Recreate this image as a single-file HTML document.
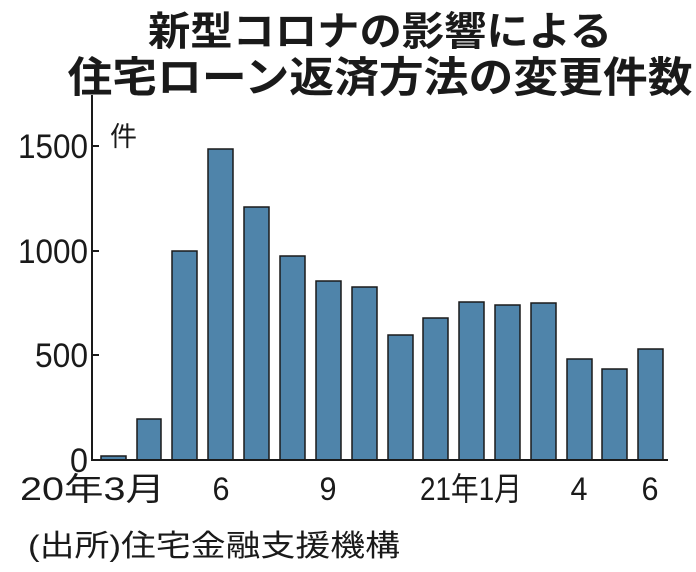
<!DOCTYPE html>
<html><head><meta charset="utf-8"><style>
html,body{margin:0;padding:0;background:#fff}
svg{display:block}
text{font-family:"Liberation Sans","Noto Sans CJK JP",sans-serif;fill:#1a1a1a}
</style></head><body>
<svg width="696" height="572" viewBox="0 0 696 572">
<text x="380" y="45" font-size="40" font-weight="bold" text-anchor="middle" textLength="464" lengthAdjust="spacingAndGlyphs">新型コロナの影響による</text>
<text x="380" y="92" font-size="42" font-weight="bold" text-anchor="middle" textLength="625" lengthAdjust="spacingAndGlyphs">住宅ローン返済方法の変更件数</text>
<text x="110" y="146" font-size="27">件</text>
<g font-size="34">
<text x="88" y="158" text-anchor="end" textLength="70" lengthAdjust="spacingAndGlyphs">1500</text>
<text x="88" y="263" text-anchor="end" textLength="70" lengthAdjust="spacingAndGlyphs">1000</text>
<text x="88" y="367" text-anchor="end" textLength="53" lengthAdjust="spacingAndGlyphs">500</text>
<text x="88" y="472" text-anchor="end" textLength="18" lengthAdjust="spacingAndGlyphs">0</text>
</g>
<g fill="#4f84aa" stroke="#1a1a1a" stroke-width="1.5">
<rect x="101" y="456" width="25" height="4"/>
<rect x="137" y="419" width="24" height="41"/>
<rect x="172" y="251" width="25" height="209"/>
<rect x="208" y="149" width="25" height="311"/>
<rect x="244" y="207" width="25" height="253"/>
<rect x="280" y="256" width="25" height="204"/>
<rect x="316" y="281" width="25" height="179"/>
<rect x="352" y="287" width="25" height="173"/>
<rect x="388" y="335" width="25" height="125"/>
<rect x="423" y="318" width="25" height="142"/>
<rect x="459" y="302" width="25" height="158"/>
<rect x="495" y="305" width="25" height="155"/>
<rect x="531" y="303" width="25" height="157"/>
<rect x="567" y="359" width="25" height="101"/>
<rect x="602" y="369" width="25" height="91"/>
<rect x="638" y="349" width="25" height="111"/>
</g>
<g stroke="#1a1a1a" stroke-width="2">
<line x1="92" y1="95" x2="92" y2="461"/>
<line x1="91" y1="460" x2="668" y2="460"/>
<line x1="92" y1="146" x2="99" y2="146"/>
<line x1="92" y1="251" x2="99" y2="251"/>
<line x1="92" y1="355" x2="99" y2="355"/>
</g>
<g font-size="32">
<text x="20" y="500" textLength="145" lengthAdjust="spacingAndGlyphs">20年3月</text>
<text x="221" y="500" text-anchor="middle" textLength="17" lengthAdjust="spacingAndGlyphs">6</text>
<text x="328" y="500" text-anchor="middle" textLength="17" lengthAdjust="spacingAndGlyphs">9</text>
<text x="420" y="500" textLength="102" lengthAdjust="spacingAndGlyphs">21年1月</text>
<text x="579" y="500" text-anchor="middle" textLength="17" lengthAdjust="spacingAndGlyphs">4</text>
<text x="650" y="500" text-anchor="middle" textLength="17" lengthAdjust="spacingAndGlyphs">6</text>
</g>
<text x="28" y="556" font-size="30" textLength="372" lengthAdjust="spacingAndGlyphs">(出所)住宅金融支援機構</text>
</svg>
</body></html>
